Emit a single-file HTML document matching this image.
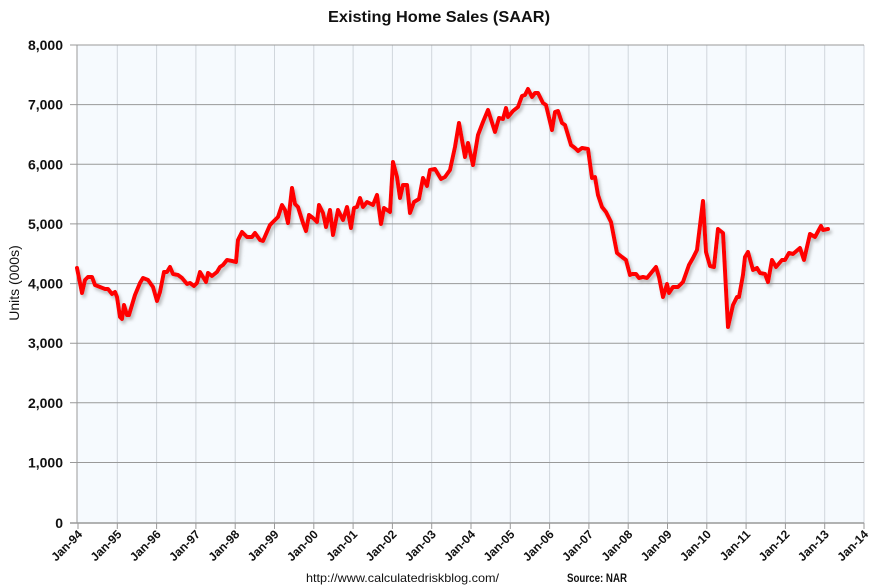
<!DOCTYPE html>
<html><head><meta charset="utf-8"><style>
html,body{margin:0;padding:0;background:#fff;}
svg{display:block;font-family:"Liberation Sans",sans-serif;}
</style></head><body>
<svg width="877" height="588" viewBox="0 0 877 588" xmlns="http://www.w3.org/2000/svg">
<defs><filter id="sh" x="-5%" y="-5%" width="110%" height="110%"><feDropShadow dx="2" dy="3" stdDeviation="1.5" flood-color="#888" flood-opacity="0.55"/></filter></defs>
<rect x="77" y="45" width="787" height="478" fill="#f6fafe"/>
<g stroke="#d0d6dc" stroke-width="1">
<line x1="117.3" y1="45" x2="117.3" y2="523"/><line x1="156.6" y1="45" x2="156.6" y2="523"/><line x1="195.9" y1="45" x2="195.9" y2="523"/><line x1="235.2" y1="45" x2="235.2" y2="523"/><line x1="274.5" y1="45" x2="274.5" y2="523"/><line x1="313.8" y1="45" x2="313.8" y2="523"/><line x1="353.1" y1="45" x2="353.1" y2="523"/><line x1="392.4" y1="45" x2="392.4" y2="523"/><line x1="431.7" y1="45" x2="431.7" y2="523"/><line x1="471" y1="45" x2="471" y2="523"/><line x1="510.3" y1="45" x2="510.3" y2="523"/><line x1="549.6" y1="45" x2="549.6" y2="523"/><line x1="588.9" y1="45" x2="588.9" y2="523"/><line x1="628.2" y1="45" x2="628.2" y2="523"/><line x1="667.5" y1="45" x2="667.5" y2="523"/><line x1="706.8" y1="45" x2="706.8" y2="523"/><line x1="746.1" y1="45" x2="746.1" y2="523"/><line x1="785.4" y1="45" x2="785.4" y2="523"/><line x1="824.7" y1="45" x2="824.7" y2="523"/><line x1="864" y1="45" x2="864" y2="523"/>
</g>
<g stroke="#999" stroke-width="1">
<line x1="70" y1="45" x2="864" y2="45"/><line x1="70" y1="104.6" x2="864" y2="104.6"/><line x1="70" y1="164.3" x2="864" y2="164.3"/><line x1="70" y1="223.9" x2="864" y2="223.9"/><line x1="70" y1="283.6" x2="864" y2="283.6"/><line x1="70" y1="343.2" x2="864" y2="343.2"/><line x1="70" y1="402.8" x2="864" y2="402.8"/><line x1="70" y1="462.5" x2="864" y2="462.5"/>
</g>
<line x1="77" y1="45" x2="77" y2="523" stroke="#999"/>
<line x1="70" y1="523" x2="864" y2="523" stroke="#999" stroke-width="1.5"/>
<g stroke="#999"><line x1="78" y1="523" x2="78" y2="529"/><line x1="117.3" y1="523" x2="117.3" y2="529"/><line x1="156.6" y1="523" x2="156.6" y2="529"/><line x1="195.9" y1="523" x2="195.9" y2="529"/><line x1="235.2" y1="523" x2="235.2" y2="529"/><line x1="274.5" y1="523" x2="274.5" y2="529"/><line x1="313.8" y1="523" x2="313.8" y2="529"/><line x1="353.1" y1="523" x2="353.1" y2="529"/><line x1="392.4" y1="523" x2="392.4" y2="529"/><line x1="431.7" y1="523" x2="431.7" y2="529"/><line x1="471" y1="523" x2="471" y2="529"/><line x1="510.3" y1="523" x2="510.3" y2="529"/><line x1="549.6" y1="523" x2="549.6" y2="529"/><line x1="588.9" y1="523" x2="588.9" y2="529"/><line x1="628.2" y1="523" x2="628.2" y2="529"/><line x1="667.5" y1="523" x2="667.5" y2="529"/><line x1="706.8" y1="523" x2="706.8" y2="529"/><line x1="746.1" y1="523" x2="746.1" y2="529"/><line x1="785.4" y1="523" x2="785.4" y2="529"/><line x1="824.7" y1="523" x2="824.7" y2="529"/><line x1="864" y1="523" x2="864" y2="529"/></g>
<polyline filter="url(#sh)" fill="none" stroke="#ff0000" stroke-width="4" stroke-linejoin="round" stroke-linecap="round" points="
77,268 82,293 85,280 88,277 92,277 95,285 100,287 105,289 108,289 112,294 115,292 117,297 120,317 122,319 124,305 127,315 129,315 135,295 140,283 143,278 148,280 153,287 157,301 160,292 164,272 167,272 170,267 173,274 178,275 182,278 187,284 190,283 194,286 197,283 200,272 203,277 206,282 208,273 212,276 217,272 220,267 223,265 227,260 232,261 236,262 238,240 242,232 247,237 252,237 255,233 260,240 263,241 270,225 273,222 278,217 282,205 285,210 288,223 292,188 295,204 298,207 303,223 306,231 309,215 313,218 317,222 319,205 323,213 326,227 330,210 333,235 338,210 343,220 347,207 351,228 354,208 357,207 360,198 363,207 367,202 373,205 377,195 381,224 384,208 390,212 393,162 397,177 400,198 403,185 407,185 410,213 414,202 419,199 423,178 427,186 430,170 435,169 441,179 445,177 450,170 455,147 459,123 465,157 468,143 473,165 478,135 483,122 488,110 495,132 499,118 503,119 506,108 508,117 513,111 518,107 522,96 525,95 528,89 532,97 535,93 538,93 543,103 546,105 552,130 555,112 558,111 562,123 565,125 571,145 575,148 578,151 582,148 588,149 592,178 595,177 598,195 602,207 606,212 611,222 617,253 622,257 626,260 630,275 632,274 636,274 639,278 643,277 647,278 656,267 659,277 663,297 667,284 669,293 673,287 678,287 683,282 689,265 693,258 697,250 703,201 706,252 710,266 714,267 718,229 723,233 728,327 733,305 737,297 739,297 743,275 745,257 748,252 753,270 757,268 760,273 765,274 768,282 772,260 776,267 782,260 785,260 789,253 793,254 800,248 804,260 810,234 815,237 821,226 823,230 828,229"/>
<text x="439" y="22" text-anchor="middle" font-size="16" font-weight="bold" fill="#111" textLength="222" lengthAdjust="spacingAndGlyphs">Existing Home Sales (SAAR)</text>
<g font-size="14" font-weight="bold" fill="#111" text-anchor="end">
<text x="63" y="50">8,000</text><text x="63" y="109.6">7,000</text><text x="63" y="169.3">6,000</text><text x="63" y="228.9">5,000</text><text x="63" y="288.6">4,000</text><text x="63" y="348.2">3,000</text><text x="63" y="407.8">2,000</text><text x="63" y="467.5">1,000</text><text x="63" y="528">0</text>
</g>
<text transform="translate(19,283) rotate(-90)" text-anchor="middle" font-size="14" fill="#111">Units (000s)</text>
<g font-size="12" font-weight="bold" fill="#111" text-anchor="end">
<text transform="translate(83,535) rotate(-45)">Jan-94</text><text transform="translate(122.3,535) rotate(-45)">Jan-95</text><text transform="translate(161.6,535) rotate(-45)">Jan-96</text><text transform="translate(200.9,535) rotate(-45)">Jan-97</text><text transform="translate(240.2,535) rotate(-45)">Jan-98</text><text transform="translate(279.5,535) rotate(-45)">Jan-99</text><text transform="translate(318.8,535) rotate(-45)">Jan-00</text><text transform="translate(358.1,535) rotate(-45)">Jan-01</text><text transform="translate(397.4,535) rotate(-45)">Jan-02</text><text transform="translate(436.7,535) rotate(-45)">Jan-03</text><text transform="translate(476,535) rotate(-45)">Jan-04</text><text transform="translate(515.3,535) rotate(-45)">Jan-05</text><text transform="translate(554.6,535) rotate(-45)">Jan-06</text><text transform="translate(593.9,535) rotate(-45)">Jan-07</text><text transform="translate(633.2,535) rotate(-45)">Jan-08</text><text transform="translate(672.5,535) rotate(-45)">Jan-09</text><text transform="translate(711.8,535) rotate(-45)">Jan-10</text><text transform="translate(751.1,535) rotate(-45)">Jan-11</text><text transform="translate(790.4,535) rotate(-45)">Jan-12</text><text transform="translate(829.7,535) rotate(-45)">Jan-13</text><text transform="translate(869,535) rotate(-45)">Jan-14</text>
</g>
<text x="306" y="582" font-size="12" fill="#111" textLength="193" lengthAdjust="spacingAndGlyphs">http://www.calculatedriskblog.com/</text>
<text x="567" y="582" font-size="12" font-weight="bold" fill="#111" textLength="60" lengthAdjust="spacingAndGlyphs">Source: NAR</text>
</svg>
</body></html>
